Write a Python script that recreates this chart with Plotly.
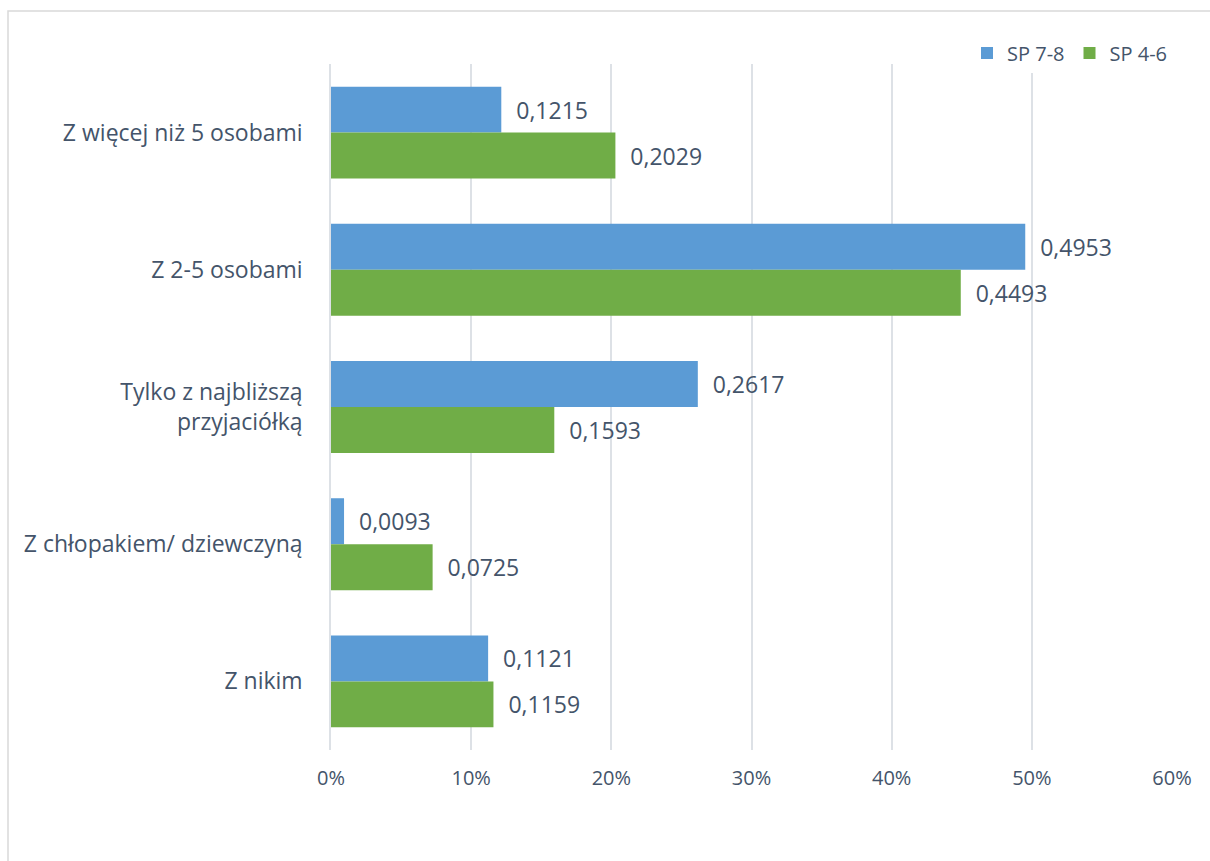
import plotly.graph_objects as go

categories = ["Z więcej niż 5 osobami", "Z 2-5 osobami", "Tylko z najbliższą<br>przyjaciółką",
              "Z chłopakiem/ dziewczyną", "Z nikim"]
sp78 = [0.1215, 0.4953, 0.2617, 0.0093, 0.1121]
sp46 = [0.2029, 0.4493, 0.1593, 0.0725, 0.1159]
x_ticks = [0, 0.1, 0.2, 0.3, 0.4, 0.5, 0.6]

W, H = 1210, 861
ML, MR, MT, MB = 331, 38, 64, 111
PW, PH = W - ML - MR, H - MT - MB

txt = "#44546A"
fnt = "Open Sans, Noto Sans, sans-serif"
grid = "#DDE1E6"

fig = go.Figure()
for name, vals, col in [("SP 7-8", sp78, "#5B9BD5"), ("SP 4-6", sp46, "#70AD47")]:
    fig.add_trace(go.Bar(y=categories, x=vals, orientation="h", name=name,
                         marker=dict(color=col, line=dict(width=0)),
                         texttemplate="\u00a0\u00a0%{x:.4f}", textposition="outside",
                         textfont=dict(color=txt, size=23), cliponaxis=False))

fig.update_layout(
    width=W, height=H, margin=dict(l=ML, r=MR, t=MT, b=MB),
    barmode="group", bargap=0.33, bargroupgap=0,
    separators=", ",
    paper_bgcolor="white", plot_bgcolor="white",
    font=dict(family=fnt, color=txt, size=20),
    legend=dict(orientation="h", x=1.0, xanchor="right", y=1 + 11 / PH, yanchor="middle",
                font=dict(size=20), itemwidth=30, traceorder="normal"),
    xaxis=dict(range=[0, 0.6], tickvals=x_ticks, tickformat=".0%", showgrid=True,
               gridcolor=grid, gridwidth=1.5, zeroline=False, showline=False,
               ticklabelstandoff=14, tickfont=dict(size=20)),
    yaxis=dict(autorange="reversed", showgrid=False, showline=True, linecolor=grid,
               linewidth=1.5, ticklabelstandoff=22, tickfont=dict(size=23)),
    shapes=[dict(type="rect", xref="paper", yref="paper",
                 x0=(8 - ML) / PW, x1=(W + 20 - ML) / PW,
                 y0=-(H + 20 - MT - PH) / PH, y1=1 + (MT - 11) / PH,
                 line=dict(color="#D9D9D9", width=1.5), layer="below")],
    showlegend=True,
)

fig.write_html("out.html", config={"displayModeBar": False},
               post_script="document.body.style.margin='0';")
